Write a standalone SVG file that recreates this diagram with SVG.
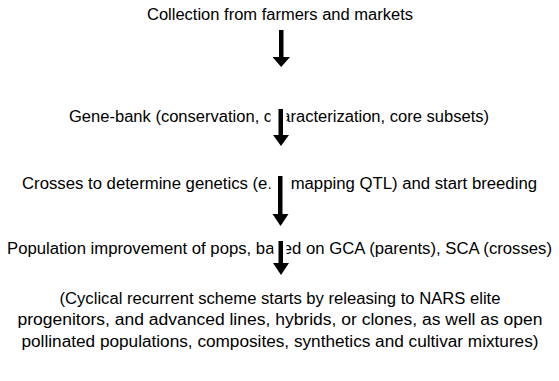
<svg xmlns="http://www.w3.org/2000/svg" width="559" height="381" viewBox="0 0 559 381">
<style>
text{font-family:"Liberation Sans",Arial,sans-serif;font-size:16px;fill:#000;text-anchor:middle}
.shaft{fill:#000}
.mask{fill:#fff}
</style>
<rect width="559" height="381" fill="#fff"/>
<g id="n1"><text x="280" y="19.5" textLength="266" lengthAdjust="spacingAndGlyphs">Collection from farmers and markets</text></g>
<g id="n2"><text x="279" y="121.5" textLength="420" lengthAdjust="spacingAndGlyphs">Gene-bank (conservation, characterization, core subsets)</text></g>
<g id="n3"><text x="279.5" y="188.5" textLength="515" lengthAdjust="spacingAndGlyphs">Crosses to determine genetics (e.g. mapping QTL) and start breeding</text></g>
<g id="n4"><text x="279.5" y="253.5" textLength="545" lengthAdjust="spacingAndGlyphs">Population improvement of pops, based on GCA (parents), SCA (crosses)</text></g>
<g id="n5">
<text x="280" y="303.5" textLength="441" lengthAdjust="spacingAndGlyphs">(Cyclical recurrent scheme starts by releasing to NARS elite</text>
<text x="280" y="325" textLength="525" lengthAdjust="spacingAndGlyphs">progenitors, and advanced lines, hybrids, or clones, as well as open</text>
<text x="280" y="346.5" textLength="517" lengthAdjust="spacingAndGlyphs">pollinated populations, composites, synthetics and cultivar mixtures)</text>
</g>
<g id="connectors">
<rect class="shaft" x="279" y="30" width="4.5" height="28"/>
<polygon class="shaft" points="272.5,57 290,57 281.2,67"/>
<rect class="mask" x="270.5" y="106" width="16" height="20"/>
<rect class="shaft" x="278.5" y="109" width="4.5" height="27"/>
<polygon class="shaft" points="273,135 289,135 281,146"/>
<rect class="mask" x="270.5" y="173" width="18" height="20"/>
<rect class="shaft" x="278" y="176" width="4.5" height="39"/>
<polygon class="shaft" points="272.5,214 288.5,214 280.5,226"/>
<rect class="mask" x="273.5" y="238" width="13" height="20"/>
<rect class="shaft" x="278.5" y="241" width="4.5" height="23"/>
<polygon class="shaft" points="273,263 289,263 281,275"/>
</g>
</svg>
